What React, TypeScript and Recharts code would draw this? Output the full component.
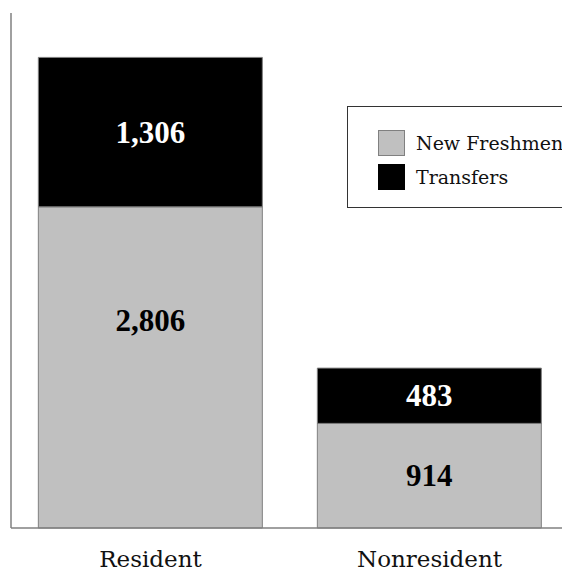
import { BarChart, Bar, XAxis, YAxis, LabelList } from "recharts";

const categories = ["Resident", "Nonresident"];
const newFreshmen = [2806, 914];
const transfers = [1306, 483];

const data = categories.map((c, i) => ({
  name: c,
  freshmen: newFreshmen[i],
  transfers: transfers[i],
}));

const GRAY = "#c0c0c0";
const EDGE = "#808080";
const fmt = (v: any) => Number(v).toLocaleString("en-US");
const labelFont = { fontFamily: "Liberation Serif", fontWeight: "bold" as const, fontSize: 31 };

// tall segments keep their label in the upper part, like the original
function SegLabel(props: any) {
  const { x, y, width, height, value, fill } = props;
  const cy = height > 200 ? y + height * 0.355 : y + height / 2;
  return (
    <text x={x + width / 2} y={cy} textAnchor="middle" dominantBaseline="central" fill={fill} style={labelFont}>
      {fmt(value)}
    </text>
  );
}

function LegendBox() {
  const items = [
    { label: "New Freshmen", color: GRAY, stroke: EDGE },
    { label: "Transfers", color: "#000", stroke: "#000" },
  ];
  return (
    <div style={{ position: "absolute", left: 347, top: 106, border: "1.5px solid #333", width: 240, height: 102, boxSizing: "border-box", paddingTop: 19, paddingLeft: 30, background: "#fff" }}>
      {items.map((it) => (
        <div key={it.label} style={{ display: "flex", alignItems: "center", height: 34, fontFamily: "DejaVu Serif", fontSize: 19, color: "#111" }}>
          <span style={{ width: 27, height: 26, background: it.color, border: `1px solid ${it.stroke}`, boxSizing: "border-box", marginRight: 11, display: "inline-block" }} />
          {it.label}
        </div>
      ))}
    </div>
  );
}

export default function App() {
  return (
    <div style={{ position: "absolute", left: 0, top: 0, width: 562, height: 571, overflow: "hidden", background: "#fff" }}>
      <BarChart width={570} height={571} data={data} margin={{ top: 13, right: 1, left: 10, bottom: 0 }} barCategoryGap="9.8%">
        <YAxis width={1} domain={[0, 4500]} tick={false} tickLine={false} axisLine={{ stroke: EDGE, strokeWidth: 1.5 }} />
        <XAxis
          dataKey="name"
          height={43}
          tickLine={false}
          tickMargin={17}
          axisLine={{ stroke: EDGE, strokeWidth: 1.5 }}
          tick={{ fontFamily: "DejaVu Serif", fontSize: 23, fill: "#111" }}
        />
        <Bar dataKey="freshmen" stackId="a" fill={GRAY} stroke={EDGE} strokeWidth={1} isAnimationActive={false}>
          <LabelList dataKey="freshmen" fill="#000" content={SegLabel} />
        </Bar>
        <Bar dataKey="transfers" stackId="a" fill="#000" stroke={EDGE} strokeWidth={1} isAnimationActive={false}>
          <LabelList dataKey="transfers" fill="#fff" content={SegLabel} />
        </Bar>
      </BarChart>
      <LegendBox />
    </div>
  );
}
